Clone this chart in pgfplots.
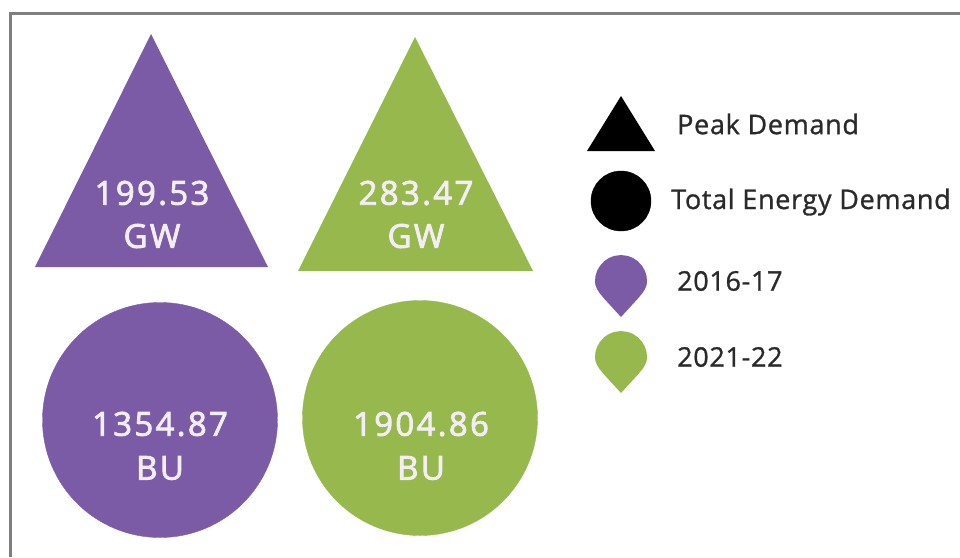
\documentclass[border=0pt]{standalone}
\usepackage{pgfplots}
\pgfplotsset{compat=1.18}
\usepackage{fontspec}
\setmainfont{Open Sans}
\newfontfamily\valfont[LetterSpace=7,FakeBold=2.5]{Open Sans}
\newfontfamily\legfont[LetterSpace=2.5,FakeBold=1]{Open Sans}
\definecolor{purp}{HTML}{7B5BA6}
\definecolor{grn}{HTML}{97B84C}
\definecolor{frm}{HTML}{7F7F7F}
\definecolor{txt}{HTML}{2A2A2A}
\definecolor{lab}{HTML}{F3EDF5}
\begin{document}
\begin{tikzpicture}
\path[use as bounding box] (0,0) rectangle (960pt,557pt);
\begin{axis}[
  scale only axis, width=960pt, height=557pt,
  xmin=0, xmax=960, ymin=0, ymax=557, y dir=reverse,
  hide axis, clip=false, clip marker paths=true
]
% frame
\addplot[frm, line width=3pt, mark=none] coordinates {(10,557) (10,13) (960,13)};
% triangles
\addplot[fill=purp, draw=none, mark=none] coordinates {(151,34) (35,267) (268,267)} -- cycle;
\addplot[fill=grn, draw=none, mark=none] coordinates {(415,37) (298,271) (533,271)} -- cycle;
% circles
\addplot[only marks, mark=*, mark size=117.5pt, mark options={fill=purp, draw=purp}, purp] coordinates {(160,420)};
\addplot[only marks, mark=*, mark size=117.5pt, mark options={fill=grn, draw=grn}, grn] coordinates {(420,418)};
% legend shapes
\addplot[fill=black, draw=none, mark=none] coordinates {(621,96) (587,151) (655,151)} -- cycle;
\addplot[only marks, mark=*, mark size=30pt, mark options={fill=black, draw=black}, black] coordinates {(621,201)};
% purple drop
\addplot[fill=purp, draw=none, mark=none] coordinates {
 (621,255) (628.1,256) (633.1,258) (637.6,261) (642.2,266) (645,271) (646.5,276) (647,281)
 (646.6,285) (645,289) (642.5,293) (637.5,299) (632,305) (626.5,311) (621,317)
 (615.5,311) (610,305) (604.5,299) (599.5,293) (597,289) (595.4,285) (595,281)
 (595.5,276) (597,271) (599.8,266) (604.4,261) (608.9,258) (613.9,256)} -- cycle;
% green drop
\addplot[fill=grn, draw=none, mark=none] coordinates {
 (621,331) (628.1,332) (633.1,334) (637.6,337) (642.2,342) (645,347) (646.5,352) (647,357)
 (646.6,361) (645,365) (642.5,369) (637.5,375) (632,381) (626.5,387) (621,393)
 (615.5,387) (610,381) (604.5,375) (599.5,369) (597,365) (595.4,361) (595,357)
 (595.5,352) (597,347) (599.8,342) (604.4,337) (608.9,334) (613.9,332)} -- cycle;
% value labels
\tikzset{val/.style={text=lab, font=\valfont\fontsize{33}{33}\selectfont, inner sep=0pt, anchor=center}}
\node[val] at (axis cs:152,193) {199.53};
\node[val] at (axis cs:152,236) {GW};
\node[val] at (axis cs:416,193) {283.47};
\node[val] at (axis cs:416,236) {GW};
\node[val] at (axis cs:160,424) {1354.87};
\node[val] at (axis cs:160,468) {BU};
\node[val] at (axis cs:421,424) {1904.86};
\node[val] at (axis cs:421,468) {BU};
% legend labels
\tikzset{leg/.style={text=txt, font=\legfont\fontsize{27}{27}\selectfont, inner sep=0pt, anchor=west}}
\node[leg] at (axis cs:677,124) {Peak Demand};
\node[leg] at (axis cs:671,202) {Total Energy Demand};
\node[leg] at (axis cs:677,281) {2016-17};
\node[leg] at (axis cs:677,357) {2021-22};
\end{axis}
\end{tikzpicture}
\end{document}
